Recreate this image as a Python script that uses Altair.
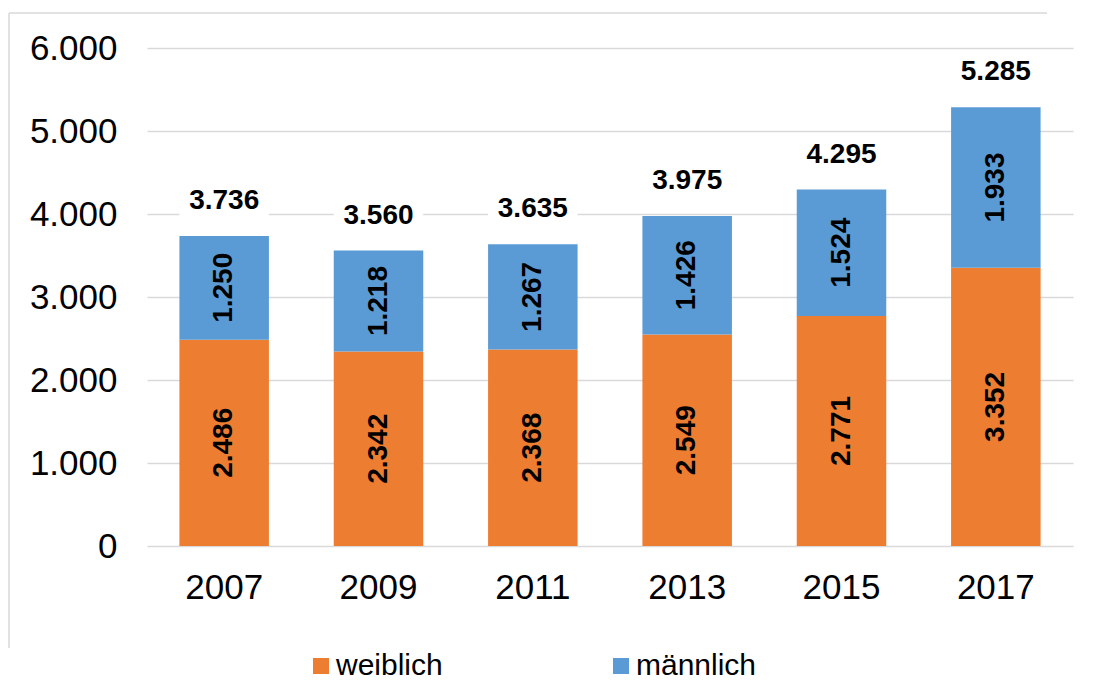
import altair as alt
import pandas as pd

years = ["2007", "2009", "2011", "2013", "2015", "2017"]
weiblich = [2486, 2342, 2368, 2549, 2771, 3352]
maennlich = [1250, 1218, 1267, 1426, 1524, 1933]
series = ["weiblich", "männlich"]
colors = ["#ED7D31", "#5B9BD5"]
y_ticks = [0, 1000, 2000, 3000, 4000, 5000, 6000]

rows = []
for i, y in enumerate(years):
    rows.append({"year": y, "sex": series[0], "ord": 0, "value": weiblich[i]})
    rows.append({"year": y, "sex": series[1], "ord": 1, "value": maennlich[i]})
df = pd.DataFrame(rows)

FONT = "Liberation Sans"
fmt = "replace(format(datum.%s, ','), ',', '.')"

xenc = alt.X("year:N", sort=years, title=None,
             scale=alt.Scale(paddingInner=0.42, paddingOuter=0.21),
             axis=alt.Axis(labelAngle=0, labelAlign="center", labelBaseline="top",
                           labelFontSize=35, labelFont=FONT, labelColor="#000",
                           labelPadding=24, ticks=False, domain=False, grid=False))

base = alt.Chart(df)
one = base.transform_filter("datum.ord == 0 && datum.year == '2007'")

border_top = one.mark_rule(stroke="#d9d9d9", strokeWidth=1.5, clip=False).encode(
    x=alt.value(-138), x2=alt.value(900), y=alt.value(-35)
)
border_left = one.mark_rule(stroke="#d9d9d9", strokeWidth=1.5, clip=False).encode(
    x=alt.value(-138), y=alt.value(-35), y2=alt.value(600)
)

bars = base.mark_bar().encode(
    x=xenc,
    y=alt.Y("sum(value):Q", title=None,
            scale=alt.Scale(domain=[0, 6000], nice=False),
            axis=alt.Axis(values=y_ticks, labelExpr="replace(format(datum.value, ','), ',', '.')",
                          labelFontSize=35, labelFont=FONT, labelColor="#000", labelPadding=30,
                          ticks=False, domain=False, grid=True, gridColor="#d9d9d9",
                          gridWidth=1.5)),
    color=alt.Color("sex:N", scale=alt.Scale(domain=series, range=colors),
                    legend=alt.Legend(title=None, orient="none", legendX=159, legendY=603,
                                      direction="horizontal", symbolType="square",
                                      symbolSize=256, symbolStrokeWidth=0,
                                      labelFontSize=30, labelFont=FONT, labelColor="#000",
                                      labelOffset=0, columnPadding=163,
                                      symbolOpacity=1)),
    order=alt.Order("ord:Q"),
)

inner = base.transform_stack(
    stack="value", groupby=["year"], as_=["lo", "hi"], sort=[alt.SortField("ord")]
).transform_calculate(
    mid="(datum.lo + datum.hi) / 2", label=fmt % "value"
).mark_text(angle=270, fontSize=28, fontWeight="bold", font=FONT, color="#000",
            baseline="middle", align="center").encode(
    x=xenc,
    y=alt.Y("mid:Q"),
    text="label:N",
)

totals = base.transform_aggregate(
    total="sum(value)", groupby=["year"]
).transform_calculate(
    label=fmt % "total", boxlo="datum.total + 180", boxhi="datum.total + 660"
)

boxes = totals.mark_bar(color="white").encode(
    x=xenc, y="boxlo:Q", y2="boxhi:Q"
)

tot_text = totals.mark_text(fontSize=28, fontWeight="bold", font=FONT, color="#000",
                            baseline="middle", align="center", dy=-35).encode(
    x=xenc, y="total:Q", text="label:N"
)

chart = alt.layer(border_top, border_left, boxes, bars, inner, tot_text).properties(
    width=926, height=498,
    autosize=alt.AutoSizeParams(type="none"),
    padding={"left": 139, "top": 40, "right": 13, "bottom": 139},
).configure_view(stroke=None)

chart.save("out.html", embed_options={"renderer": "svg", "actions": False})
